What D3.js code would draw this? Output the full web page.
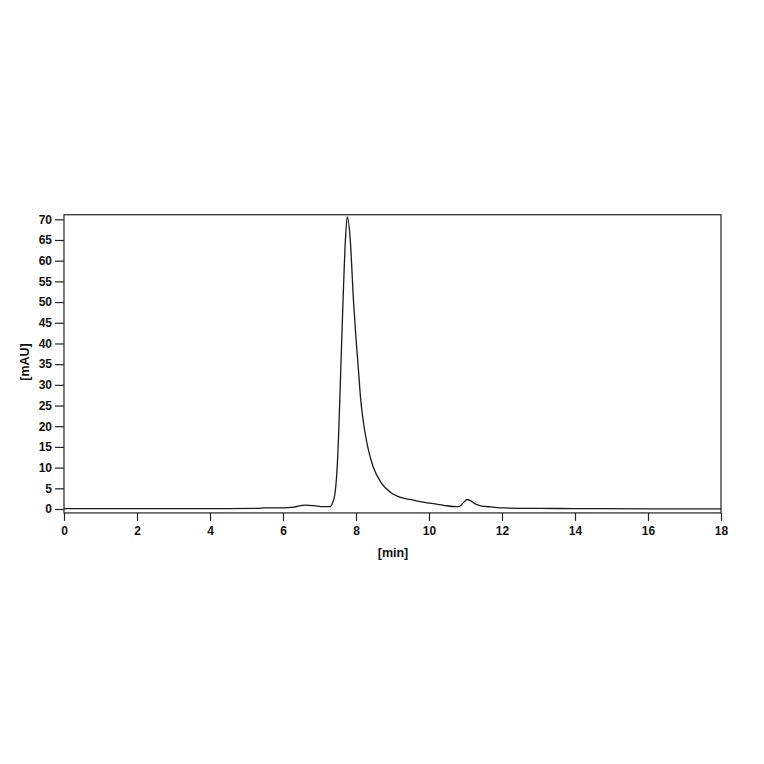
<!DOCTYPE html>
<html>
<head>
<meta charset="utf-8">
<script src="https://cdn.jsdelivr.net/npm/d3@7"></script>
<style>
  body { margin: 0; background: #fff; }
  text { font-family: "Liberation Sans", Arial, sans-serif; font-weight: bold; fill: #111; }
</style>
</head>
<body>
<script>
// chromatogram trace
const timeMin = [0, 2, 4, 5.3, 5.5, 6.0, 6.3, 6.6, 6.85, 7.1, 7.25, 7.3, 7.36, 7.42, 7.47, 7.52, 7.58, 7.64, 7.71, 7.76,
  7.84, 7.93, 7.99, 8.06, 8.13, 8.19, 8.25, 8.34, 8.47, 8.7, 8.95, 9.16, 9.3, 9.48, 9.75, 10.03, 10.4, 10.76, 10.85, 10.95, 11.05,
  11.15, 11.3, 11.45, 11.7, 12.04, 13, 14, 16, 17, 18];
const signal = [0.1, 0.1, 0.1, 0.15, 0.25, 0.25, 0.45, 0.95, 0.8, 0.55, 0.55, 0.6, 1.5, 3.5, 8, 17, 33, 49, 65, 70.6,
  65.4, 50.5, 42.4, 34.4, 26.3, 21.8, 18.3, 14.3, 10.2, 6.2, 4.0, 3.0, 2.6, 2.3, 1.8, 1.4, 0.9, 0.55, 0.7, 1.6, 2.3,
  1.9, 1.1, 0.7, 0.5, 0.25, 0.15, 0.1, 0.05, 0.05, 0.05];
const xTicks = [0, 2, 4, 6, 8, 10, 12, 14, 16, 18];
const yTicks = [0, 5, 10, 15, 20, 25, 30, 35, 40, 45, 50, 55, 60, 65, 70];

const width = 764, height = 764;

const svg = d3.select("body")
    .append("svg")
    .attr("width", width)
    .attr("height", height);

// Scales
const x = d3.scaleLinear().domain([0, 18]).range([64, 721]);
const y = d3.scaleLinear().domain([0, 70]).range([509, 219.3]);

const frameTop = y(71.1), frameBottom = y(-0.95);

// Frame
svg.append("rect")
    .attr("x", x(0))
    .attr("y", frameTop)
    .attr("width", x(18) - x(0))
    .attr("height", frameBottom - frameTop)
    .attr("fill", "none")
    .attr("stroke", "#222")
    .attr("stroke-width", 1.2);

// Y axis
const yAxis = svg.append("g")
    .attr("transform", `translate(${x(0)},0)`)
    .call(d3.axisLeft(y).tickValues(yTicks).tickSize(9).tickPadding(3));
yAxis.select(".domain").remove();

// X axis
const xAxis = svg.append("g")
    .attr("transform", `translate(0,${frameBottom})`)
    .call(d3.axisBottom(x).tickValues(xTicks).tickSize(8).tickPadding(6));
xAxis.select(".domain").remove();

svg.selectAll(".tick line").attr("stroke", "#222").attr("stroke-width", 1.2);
svg.selectAll(".tick text")
    .style("font-family", "'Liberation Sans', Arial, sans-serif")
    .style("font-weight", "bold")
    .style("font-size", "12px")
    .attr("fill", "#111");

// Trace
const line = d3.line()
    .x((d, i) => x(timeMin[i]))
    .y(d => y(d))
    .curve(d3.curveMonotoneX);

svg.append("path")
    .datum(signal)
    .attr("d", line)
    .attr("fill", "none")
    .attr("stroke", "#1a1a1a")
    .attr("stroke-width", 1.3);

// Axis labels
svg.append("text")
    .attr("x", 393)
    .attr("y", 557)
    .attr("text-anchor", "middle")
    .style("font-size", "12.5px")
    .text("[min]");

svg.append("text")
    .attr("transform", `translate(29,362) rotate(-90)`)
    .attr("text-anchor", "middle")
    .style("font-size", "12.5px")
    .text("[mAU]");
</script>
</body>
</html>
